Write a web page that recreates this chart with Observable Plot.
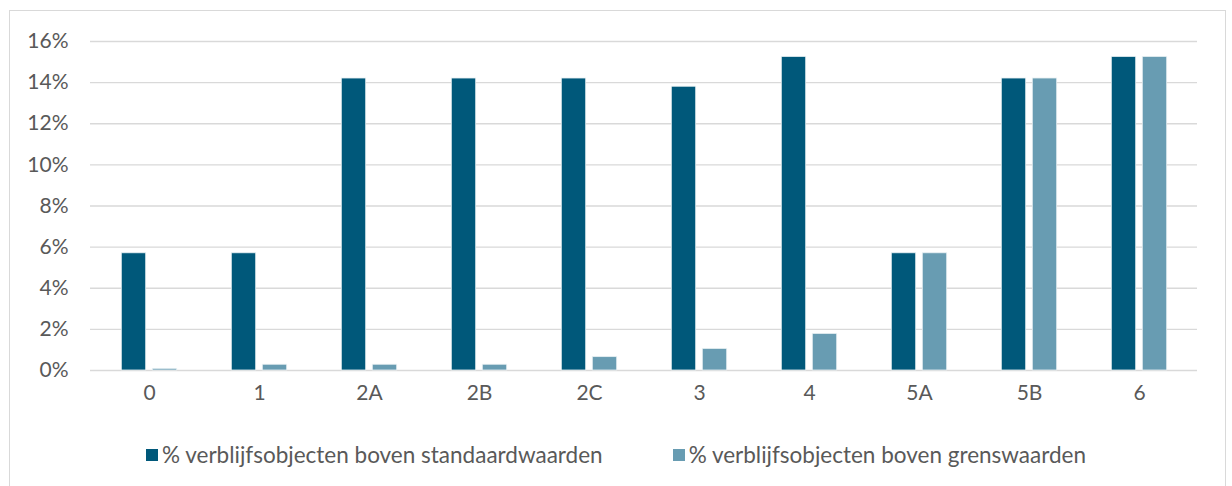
<!DOCTYPE html>
<html>
<head>
<meta charset="utf-8">
<script src="https://cdn.jsdelivr.net/npm/d3@7"></script>
<script src="https://cdn.jsdelivr.net/npm/@observablehq/plot@0.6"></script>
<style>
  body { margin: 0; background: #fff; font-family: Lato, "Open Sans", sans-serif; }
  #frame { position: absolute; left: 9px; top: 10px; width: 1217px; height: 490px; border: 1px solid #d9d9d9; box-sizing: border-box; pointer-events: none; }
  #chart { position: absolute; left: 0; top: 0; }
  #legend { position: absolute; left: 0; top: 441px; width: 1232px; display: flex; justify-content: center; gap: 70px; font-size: 22.5px; color: #595959; }
  .item { display: flex; align-items: center; }
  .sw { width: 12px; height: 12px; margin-right: 4px; display: inline-block; }
</style>
</head>
<body>
<div id="frame"></div>
<div id="chart"></div>
<div id="legend"></div>
<script>
const categories = ["0","1","2A","2B","2C","3","4","5A","5B","6"];
const standaard = [5.7, 5.7, 14.2, 14.2, 14.2, 13.8, 15.25, 5.7, 14.2, 15.25];
const grens = [0.08, 0.28, 0.28, 0.28, 0.65, 1.05, 1.78, 5.7, 14.2, 15.25];
const seriesNames = ["% verblijfsobjecten boven standaardwaarden", "% verblijfsobjecten boven grenswaarden"];
const seriesColors = ["#00587a", "#689cb2"];
const yTicks = [0, 2, 4, 6, 8, 10, 12, 14, 16];

const dataStd = categories.map((c, i) => ({cat: c, value: standaard[i]}));
const dataGr = categories.map((c, i) => ({cat: c, value: grens[i]}));

const barInset = 42.8; // leaves bars ~25px wide inside each ~110.6px band
const barShift = 15.5;

const chart = Plot.plot({
  width: 1232,
  height: 420,
  marginLeft: 90,
  marginRight: 35,
  marginTop: 41,
  marginBottom: 50,
  style: {fontFamily: "Lato, 'Open Sans', sans-serif", fontSize: "21px", color: "#595959", background: "transparent"},
  x: {domain: categories, paddingInner: 0, paddingOuter: 0, label: null},
  y: {domain: [0, 16], ticks: yTicks, label: null},
  marks: [
    Plot.gridY(yTicks, {stroke: "#d9d9d9", strokeOpacity: 1, strokeWidth: 1.3}),
    Plot.axisY({ticks: yTicks, tickFormat: d => d + "%", tickSize: 0, tickPadding: 22, label: null, fill: "#595959"}),
    Plot.axisX({tickSize: 0, tickPadding: 15, label: null, fill: "#595959"}),
    Plot.barY(dataStd, {x: "cat", y: "value", fill: seriesColors[0], insetLeft: barInset, insetRight: barInset, dx: -barShift, stroke: "#e8f0f3", strokeWidth: 0.8}),
    Plot.barY(dataGr, {x: "cat", y: "value", fill: seriesColors[1], insetLeft: barInset, insetRight: barInset, dx: barShift, stroke: "#e8f0f3", strokeWidth: 0.8})
  ]
});
document.getElementById("chart").appendChild(chart);

const legend = document.getElementById("legend");
seriesNames.forEach((n, i) => {
  const item = document.createElement("div");
  item.className = "item";
  const sw = document.createElement("span");
  sw.className = "sw";
  sw.style.background = seriesColors[i];
  const t = document.createElement("span");
  t.textContent = n;
  item.appendChild(sw);
  item.appendChild(t);
  legend.appendChild(item);
});
</script>
</body>
</html>
